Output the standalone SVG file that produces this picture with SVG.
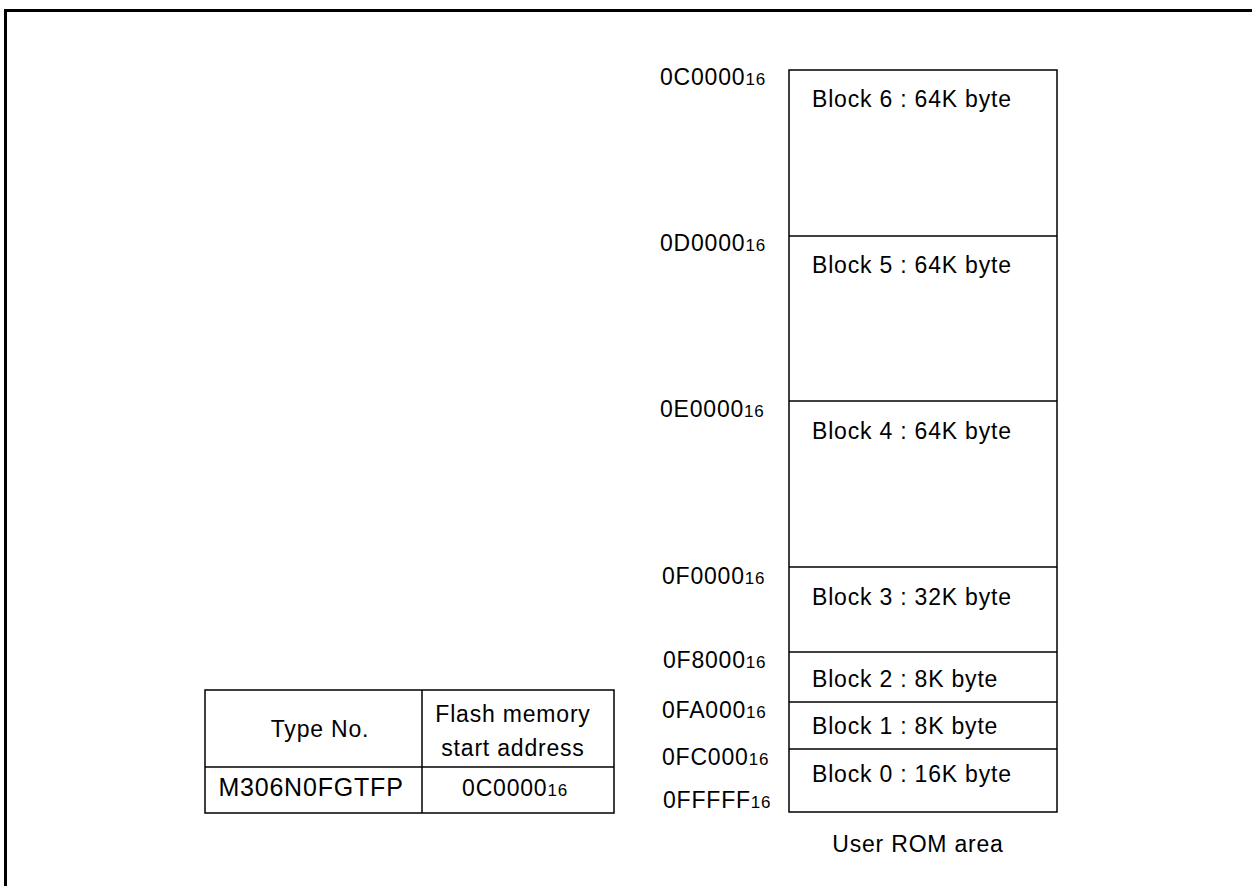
<svg xmlns="http://www.w3.org/2000/svg" width="1252" height="886" viewBox="0 0 1252 886">
<style>
text{font-family:"Liberation Sans",Arial,sans-serif;fill:#000;font-size:23px;letter-spacing:0.8px}
.m{text-anchor:middle}
.s{font-size:17px}
.ln{stroke:#000;stroke-width:1.5;fill:none}
</style>
<rect width="1252" height="886" fill="#fff"/>
<path d="M5.5,886 V10.5 H1252" fill="none" stroke="#000" stroke-width="3"/>
<g id="memory">
<rect class="ln" x="789" y="70" width="268" height="742"/>
<line class="ln" x1="789" y1="236" x2="1057" y2="236"/>
<line class="ln" x1="789" y1="401" x2="1057" y2="401"/>
<line class="ln" x1="789" y1="567" x2="1057" y2="567"/>
<line class="ln" x1="789" y1="652" x2="1057" y2="652"/>
<line class="ln" x1="789" y1="702" x2="1057" y2="702"/>
<line class="ln" x1="789" y1="749" x2="1057" y2="749"/>
<text x="812" y="107">Block 6 : 64K byte</text>
<text x="812" y="273">Block 5 : 64K byte</text>
<text x="812" y="439">Block 4 : 64K byte</text>
<text x="812" y="605">Block 3 : 32K byte</text>
<text x="812" y="687">Block 2 : 8K byte</text>
<text x="812" y="734">Block 1 : 8K byte</text>
<text x="812" y="782">Block 0 : 16K byte</text>
<text class="m" x="918" y="852">User ROM area</text>
</g>
<g id="addresses">
<text x="660" y="85">0C0000<tspan class="s">16</tspan></text>
<text x="660" y="251">0D0000<tspan class="s">16</tspan></text>
<text x="660" y="417">0E0000<tspan class="s">16</tspan></text>
<text x="662" y="584">0F0000<tspan class="s">16</tspan></text>
<text x="663" y="668">0F8000<tspan class="s">16</tspan></text>
<text x="662" y="718">0FA000<tspan class="s">16</tspan></text>
<text x="662" y="765">0FC000<tspan class="s">16</tspan></text>
<text x="663" y="808">0FFFFF<tspan class="s">16</tspan></text>
</g>
<g id="table">
<rect class="ln" x="205" y="690" width="409" height="123"/>
<line class="ln" x1="205" y1="767" x2="614" y2="767"/>
<line class="ln" x1="422" y1="690" x2="422" y2="813"/>
<text class="m" x="320" y="737">Type No.</text>
<text class="m" x="513" y="722">Flash memory</text>
<text class="m" x="513" y="756">start address</text>
<text class="m" x="311" y="796" style="font-size:25px">M306N0FGTFP</text>
<text class="m" x="515" y="796">0C0000<tspan class="s">16</tspan></text>
</g>
</svg>
